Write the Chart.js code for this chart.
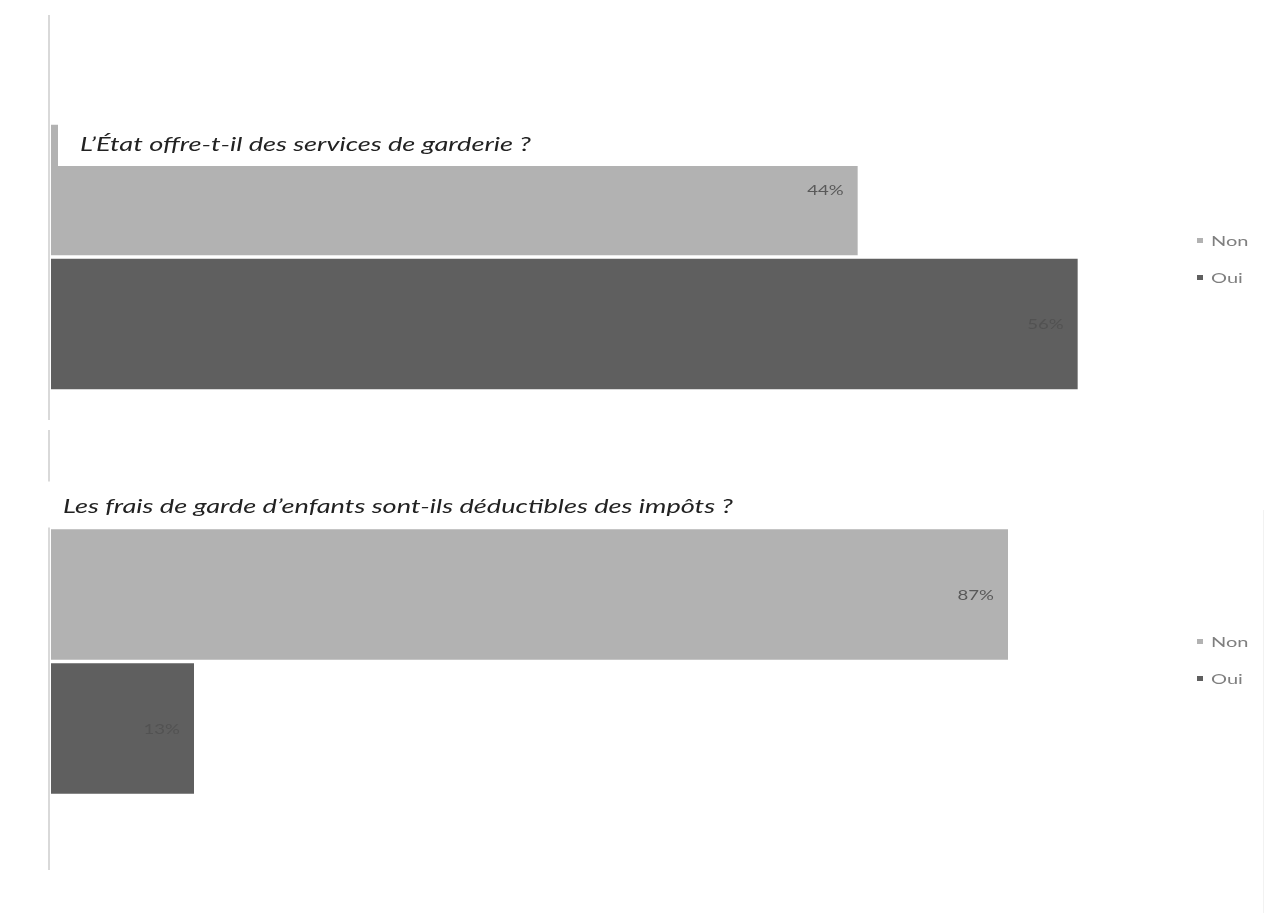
<!DOCTYPE html>
<html lang="fr">
<head>
<meta charset="utf-8">
<title>Garde d’enfants</title>
<script src="https://cdn.jsdelivr.net/npm/chart.js@4.4.1/dist/chart.umd.min.js"></script>
<style>
  body { margin: 0; background: #fff; font-family: Lato, "Noto Sans", sans-serif; }
  .panel { position: absolute; left: 0; width: 1272px; }
  .legend { position: absolute; left: 1197px; margin: 0; padding: 0; list-style: none;
            font-size: 14px; color: #7f7f7f; }
  .legend li { height: 37px; display: flex; align-items: center; }
  .legend .box { width: 6px; height: 5px; margin-right: 8px; }
  .legend .name { display: inline-block; transform: scaleX(1.43); transform-origin: left center; }
</style>
</head>
<body>
<div class="panel" id="p1" style="top:0;height:425px">
  <canvas id="c1" width="1272" height="425"></canvas>
  <ul class="legend" id="l1" style="top:222px"></ul>
</div>
<div class="panel" id="p2" style="top:425px;height:488px">
  <canvas id="c2" width="1272" height="488"></canvas>
  <ul class="legend" id="l2" style="top:198px"></ul>
</div>
<script>
const series = ["Non", "Oui"];
const colors = ["#b2b2b2", "#5f5f5f"];
const labelColors = ["#595959", "#525252"];

const questions = [
  "L’État offre-t-il des services de garderie ?",
  "Les frais de garde d’enfants sont-ils déductibles des impôts ?"
];
const garderie = [44, 56];
const deductibles = [87, 13];
const axisMax = [60, 100];

// text in this chart is set wide
const stretch = 1.43;

function wideText(ctx, text, x, y, align) {
  const w = ctx.measureText(text).width * stretch;
  const left = align === "right" ? x - w : x;
  ctx.save();
  ctx.translate(left, y);
  ctx.scale(stretch, 1);
  ctx.textAlign = "left";
  ctx.fillText(text, 0, 0);
  ctx.restore();
  return w;
}

// axis rule, value labels and the question text drawn over the plot
const decor = {
  id: "decor",
  beforeDatasetsDraw(chart, args, o) {
    const ctx = chart.ctx;
    const x = chart.chartArea.left - 2;
    ctx.save();
    ctx.strokeStyle = "#d9d9d9";
    ctx.lineWidth = 2;
    ctx.beginPath();
    ctx.moveTo(x, o.lineFrom);
    ctx.lineTo(x, o.lineTo);
    ctx.stroke();
    if (o.frameRight) {
      ctx.strokeStyle = "#f2f2f2";
      ctx.lineWidth = 1;
      ctx.beginPath();
      ctx.moveTo(o.frameRight + 0.5, o.frameFrom);
      ctx.lineTo(o.frameRight + 0.5, chart.height);
      ctx.stroke();
    }
    ctx.restore();
  },
  afterDatasetsDraw(chart, args, o) {
    const ctx = chart.ctx;
    const area = chart.chartArea;
    ctx.save();
    ctx.font = "13px Lato, 'Noto Sans', sans-serif";
    ctx.textBaseline = "middle";
    chart.data.datasets.forEach((ds, i) => {
      chart.getDatasetMeta(i).data.forEach((bar, j) => {
        ctx.fillStyle = labelColors[i];
        wideText(ctx, ds.data[j] + "%", bar.x - 14, bar.y + 1, "right");
      });
    });

    const first = chart.getDatasetMeta(0).data[0];
    const barTop = first.y - first.height / 2;
    ctx.font = "italic 19px Lato, 'Noto Sans', sans-serif";
    const textX = area.left + o.textDx;
    const textW = ctx.measureText(o.text).width * stretch;
    const boxTop = barTop + o.boxFrom;
    const boxRight = o.boxToEnd ? area.right : textX + textW + 12;
    ctx.fillStyle = "#fff";
    ctx.fillRect(area.left + o.boxDx, boxTop, boxRight - area.left - o.boxDx, o.boxHeight);
    ctx.fillStyle = "#222222";
    wideText(ctx, o.text, textX, barTop + o.textDy, "left");
    ctx.restore();
  }
};

function drawQuestion(canvasId, legendId, question, values, max, padding, decorOpts) {
  const datasets = series.map((name, i) => ({
    label: name,
    data: [values[i]],
    backgroundColor: colors[i],
    borderColor: "#ffffff",
    borderWidth: { top: 2, bottom: 2, left: 0, right: 0 },
    borderSkipped: false,
    barThickness: 134
  }));

  new Chart(document.getElementById(canvasId), {
    type: "bar",
    data: { labels: [question], datasets: datasets },
    options: {
      indexAxis: "y",
      responsive: false,
      animation: false,
      layout: { padding: padding },
      scales: {
        x: { min: 0, max: max, display: false },
        y: { display: false }
      },
      plugins: {
        legend: { display: false },
        tooltip: { enabled: false },
        decor: Object.assign({ text: question }, decorOpts)
      }
    },
    plugins: [decor]
  });

  const ul = document.getElementById(legendId);
  series.forEach((name, i) => {
    const li = document.createElement("li");
    const box = document.createElement("span");
    box.className = "box";
    box.style.background = colors[i];
    const label = document.createElement("span");
    label.className = "name";
    label.textContent = name;
    li.appendChild(box);
    li.appendChild(label);
    ul.appendChild(li);
  });
}

drawQuestion("c1", "l1", questions[0], garderie, axisMax[0],
  { left: 51, right: 121, top: 100, bottom: 11 },
  { lineFrom: 15, lineTo: 420, textDx: 29, textDy: 22, boxDx: 7, boxFrom: 0, boxHeight: 43, boxToEnd: true });

drawQuestion("c2", "l2", questions[1], deductibles, axisMax[1],
  { left: 51, right: 121, top: 40, bottom: 55 },
  { lineFrom: 5, lineTo: 445, textDx: 12, textDy: -21, boxDx: -8, boxFrom: -46, boxHeight: 46, boxToEnd: false,
    frameRight: 1263, frameFrom: 85 });
</script>
</body>
</html>
